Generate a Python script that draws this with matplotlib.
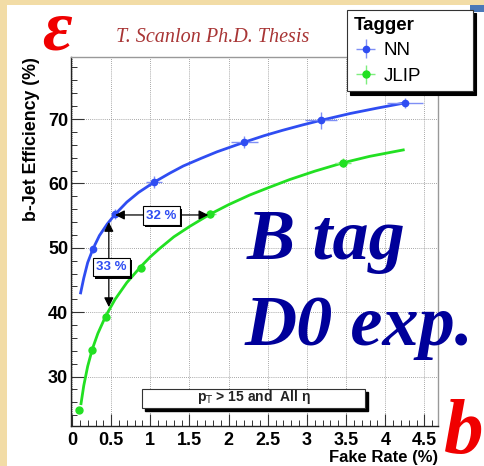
import matplotlib
matplotlib.use("Agg")
import matplotlib.pyplot as plt
import matplotlib.patches as patches
import matplotlib.patheffects as pe
import matplotlib.transforms as transforms
from matplotlib.ticker import MultipleLocator, FuncFormatter

# ------------------------------------------
# Data

nn_fake = [0.27, 0.55, 1.05, 2.2, 3.18, 4.25]
nn_eff = [49.8, 55.2, 60.2, 66.4, 69.8, 72.5]
nn_fake_err = [0.03, 0.05, 0.10, 0.17, 0.20, 0.23]
nn_eff_err = [0.6, 0.8, 0.9, 0.9, 1.3, 0.8]

jlip_fake = [0.09, 0.26, 0.43, 0.88, 1.76, 3.46]
jlip_eff = [24.8, 34.2, 39.3, 46.9, 55.2, 63.2]
jlip_fake_err = [0.01, 0.02, 0.03, 0.05, 0.08, 0.10]
jlip_eff_err = [0.3, 0.4, 0.5, 0.5, 0.6, 0.7]

# fit curves
nn_fit_x = [0.11, 0.15, 0.2, 0.27, 0.35, 0.45, 0.55, 0.7, 0.85, 1.05, 1.25,
            1.42, 1.65, 1.85, 2.2, 2.45, 2.69, 2.95, 3.18, 3.55, 3.9, 4.25]
nn_fit_y = [43.0, 45.3, 47.7, 49.9, 51.9, 53.7, 55.2, 57.1, 58.6, 60.2, 61.6,
            62.7, 63.9, 64.9, 66.4, 67.4, 68.25, 69.1, 69.8, 70.85, 71.7, 72.5]

jlip_fit_x = [0.115, 0.15, 0.2, 0.26, 0.33, 0.43, 0.55, 0.7, 0.88, 1.0, 1.12,
              1.3, 1.5, 1.76, 2.0, 2.27, 2.5, 2.78, 3.1, 3.46, 3.8, 4.23]
jlip_fit_y = [25.8, 28.6, 31.6, 34.3, 36.7, 39.4, 42.0, 44.6, 47.1, 48.6, 49.9,
              51.7, 53.3, 55.2, 56.7, 58.2, 59.3, 60.6, 61.9, 63.2, 64.2, 65.2]

# arrows: same fake rate -> efficiency gain, same efficiency -> fake rate gain
gain_eff = {"fake": 0.47, "from": 54.0, "to": 40.8, "label": "33 %", "at": (0.50, 47.0)}
gain_fake = {"eff": 55.1, "from": 0.55, "to": 1.74, "label": "32 %", "at": (1.14, 55.0)}

x_ticks = [0, 0.5, 1, 1.5, 2, 2.5, 3, 3.5, 4, 4.5]
y_ticks = [30, 40, 50, 60, 70]

BLUE = "#2f4df2"
GREEN = "#22e022"
SANS = "Liberation Sans"
SERIF = "Liberation Serif"

# ------------------------------------------
# Figure

W, H = 485, 466
fig = plt.figure(figsize=(W / 100, H / 100), dpi=100, facecolor="#f2dca6")
fig.patches.append(patches.Rectangle((7 / W, 0), 1, 1 - 5 / H, transform=fig.transFigure,
                                     facecolor="white", edgecolor="none", zorder=-10))
fig.patches.append(patches.Rectangle((470 / W, 1 - 12 / H), 15 / W, 7 / H, transform=fig.transFigure,
                                     facecolor="#4a78b8", edgecolor="none", zorder=-5))

ax = fig.add_axes([71 / W, 1 - 426 / H, 367.5 / W, 369 / H])
ax.set_xlim(-0.013, 4.68)
ax.set_ylim(22.33, 79.63)

ax.grid(True, which="major", color="#8a8a8a", linestyle=(0, (1, 1.5)), linewidth=0.6)
ax.set_axisbelow(True)

for side in ["left", "bottom"]:
    ax.spines[side].set_color("#222222")
    ax.spines[side].set_linewidth(1.0)
for side in ["top", "right"]:
    ax.spines[side].set_color("#999999")
    ax.spines[side].set_linewidth(1.0)

ax.set_xticks(x_ticks)
ax.set_yticks(y_ticks)
ax.xaxis.set_minor_locator(MultipleLocator(0.1))
ax.yaxis.set_minor_locator(MultipleLocator(2))
ax.xaxis.set_major_formatter(FuncFormatter(lambda v, p: "%g" % v))
ax.tick_params(which="major", direction="in", length=9, width=0.8, color="#333333", pad=4)
ax.tick_params(which="minor", direction="in", length=4.5, width=0.7, color="#333333")
ax.tick_params(axis="y", which="major", pad=2)
for lab in ax.get_xticklabels() + ax.get_yticklabels():
    lab.set_fontfamily(SANS)
    lab.set_fontweight("bold")
    lab.set_fontsize(13)

ax.set_xlabel("Fake Rate (%)", fontfamily=SANS, fontweight="bold", fontsize=12, loc="right")
ax.xaxis.set_label_coords(1.0, -0.065)
ax.set_ylabel("b-Jet Efficiency (%)", fontfamily=SANS, fontweight="bold", fontsize=12.8, loc="top")
ax.yaxis.set_label_coords(-0.085, 1.0)

# ------------------------------------------
# Curves and points

ax.plot(nn_fit_x, nn_fit_y, color=BLUE, linewidth=2.0, zorder=3)
ax.plot(jlip_fit_x, jlip_fit_y, color=GREEN, linewidth=2.0, zorder=3)

nn = ax.errorbar(nn_fake, nn_eff, xerr=nn_fake_err, yerr=nn_eff_err, fmt="o", color=BLUE,
                 ms=4.5, ecolor="#7f8ff5", elinewidth=1.0, capsize=0, zorder=4, label="NN")
jlip = ax.errorbar(jlip_fake, jlip_eff, xerr=jlip_fake_err, yerr=jlip_eff_err, fmt="o", color=GREEN,
                   ms=5, ecolor="#7fee7f", elinewidth=1.0, capsize=0, zorder=4, label="JLIP")

arrow_style = dict(arrowstyle="<|-|>", color="black", lw=0.9, mutation_scale=14,
                   shrinkA=0, shrinkB=0)
ax.annotate("", xy=(gain_eff["fake"], gain_eff["to"]), xytext=(gain_eff["fake"], gain_eff["from"]),
            arrowprops=arrow_style, zorder=5)
ax.annotate("", xy=(gain_fake["to"], gain_fake["eff"]), xytext=(gain_fake["from"], gain_fake["eff"]),
            arrowprops=arrow_style, zorder=5)

box_shadow = [pe.withSimplePatchShadow(offset=(1.8, -1.8), shadow_rgbFace="black", alpha=1)]


def shadowBox(x, y, text):
    box = dict(boxstyle="square,pad=0.25", facecolor="white", edgecolor="black", linewidth=0.8)
    t = ax.text(x, y, text, ha="center", va="center", fontsize=9.5, fontfamily=SANS,
                fontweight="bold", color=BLUE, bbox=box, zorder=7)
    t.get_bbox_patch().set_path_effects(box_shadow)


shadowBox(gain_eff["at"][0], gain_eff["at"][1], gain_eff["label"])
shadowBox(gain_fake["at"][0], gain_fake["at"][1], gain_fake["label"])

# cut label box
cut_box = (0.9, 25.2, 2.84, 2.8)
shift = ax.transData + transforms.ScaledTranslation(3 / 100, -3 / 100, fig.dpi_scale_trans)
ax.add_patch(patches.Rectangle(cut_box[:2], cut_box[2], cut_box[3], transform=shift,
                               facecolor="black", edgecolor="black", zorder=6))
ax.add_patch(patches.Rectangle(cut_box[:2], cut_box[2], cut_box[3], facecolor="white",
                               edgecolor="#333333", linewidth=0.8, zorder=7))
ax.text(cut_box[0] + cut_box[2] / 2, cut_box[1] + cut_box[3] / 2 + 0.2,
        "p$_{\\mathrm{T}}$ > 15 and  All \u03b7", ha="center", va="center", fontsize=10,
        fontfamily=SANS, fontweight="bold", color="#222222", zorder=8)

# ------------------------------------------
# Legend

leg = fig.legend(handles=[nn, jlip], title="Tagger", loc="upper left", mode="expand",
                 bbox_to_anchor=(347 / W, 1 - 92 / H, 126 / W, 82 / H),
                 prop={"family": SANS, "size": 13.5},
                 title_fontproperties={"family": SANS, "size": 13.5, "weight": "bold"},
                 alignment="left", frameon=True, fancybox=False, framealpha=1,
                 edgecolor="#333333", borderpad=0.35, labelspacing=0.45, handlelength=1.3,
                 handletextpad=0.3, borderaxespad=0,
                 shadow={"color": "black", "alpha": 1, "ox": 2.5, "oy": -2.5})
leg.get_frame().set_linewidth(0.8)

# ------------------------------------------
# Decoration text

fig.text(213 / W, 1 - 37 / H, "T. Scanlon Ph.D. Thesis", ha="center", va="center",
         fontfamily=SERIF, fontstyle="italic", fontsize=14.5, color="#a83535")
fig.text(57 / W, 1 - 50 / H, "\u03b5", ha="center", va="baseline", fontfamily=SERIF,
         fontstyle="italic", fontweight="bold", fontsize=52, color="#f00000")
fig.text(326 / W, 1 - 259 / H, "B tag", ha="center", va="baseline", fontfamily=SERIF,
         fontstyle="italic", fontweight="bold", fontsize=52, color="#00009a")
fig.text(359 / W, 1 - 345 / H, "D0 exp.", ha="center", va="baseline", fontfamily=SERIF,
         fontstyle="italic", fontweight="bold", fontsize=52, color="#00009a")
fig.text(464 / W, 1 - 453 / H, "b", ha="center", va="baseline", fontfamily=SERIF,
         fontstyle="italic", fontweight="bold", fontsize=57, color="#f00000")

fig.savefig("out.png", dpi=100, facecolor=fig.get_facecolor())
